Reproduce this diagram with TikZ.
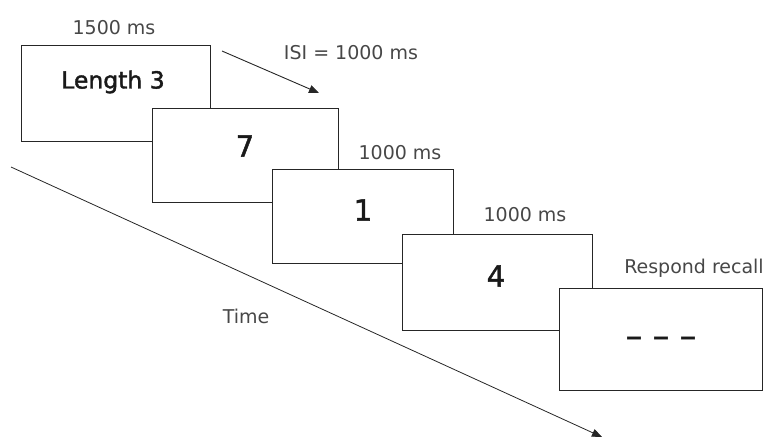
\documentclass[tikz,border=0pt]{standalone}
\usepackage{fontspec}
\setmainfont{DejaVu Sans}
\newfontfamily\medfont[FakeBold=1.6]{DejaVu Sans}
\usetikzlibrary{arrows.meta}
\begin{document}
\begin{tikzpicture}[x=1pt,y=-1pt,
  box/.style={draw=black!85, line width=1.4pt, fill=white, inner sep=0pt, anchor=north west},
  lbl/.style={text=black!72, font=\fontsize{19}{21}\selectfont, inner sep=0pt},
  big/.style={text=black!90, font=\medfont\fontsize{23.5}{26}\selectfont, inner sep=0pt},
  num/.style={text=black!90, font=\medfont\fontsize{29}{31}\selectfont, inner sep=0pt},
  arr/.style={draw=black!85, line width=0.9pt, -{Triangle[length=10pt,width=8pt]}}]
\useasboundingbox (0,0) rectangle (776,437);
% time axis
\coordinate (ts) at (11,167);
\coordinate (te) at (602,437);
\draw[arr, line width=0.8pt] (ts) -- (te);
\node[lbl] (time) at (246,316) {Time};
% boxes
\node[box, minimum width=189pt, minimum height=96pt] (b1) at (21,45) {};
\node[box, minimum width=186pt, minimum height=94pt] (b2) at (152,108) {};
\node[box, minimum width=181pt, minimum height=94pt] (b3) at (272,169) {};
\node[box, minimum width=190pt, minimum height=96pt] (b4) at (402,234) {};
\node[box, minimum width=203pt, minimum height=102pt] (b5) at (559,288) {};
% box texts
\node[big] (t1) at (113,82) {Length 3};
\node[num] (t2) at (245,146) {7};
\node[num] (t3) at (363,210) {1};
\node[num] (t4) at (496,276) {4};
\node[num, font=\medfont\fontsize{33}{35}\selectfont] (t5) at (661,342) {– – –};
% labels
\node[lbl] (l1) at (114,28) {1500 ms};
\node[lbl] (l2) at (351,53) {ISI = 1000 ms};
\node[lbl] (l3) at (400,153) {1000 ms};
\node[lbl] (l4) at (525,215) {1000 ms};
\node[lbl] (l5) at (694,268) {Respond recall};
% ISI arrow
\coordinate (is) at (222,51);
\coordinate (ie) at (319,93);
\draw[arr] (is) -- (ie);
\end{tikzpicture}
\end{document}
